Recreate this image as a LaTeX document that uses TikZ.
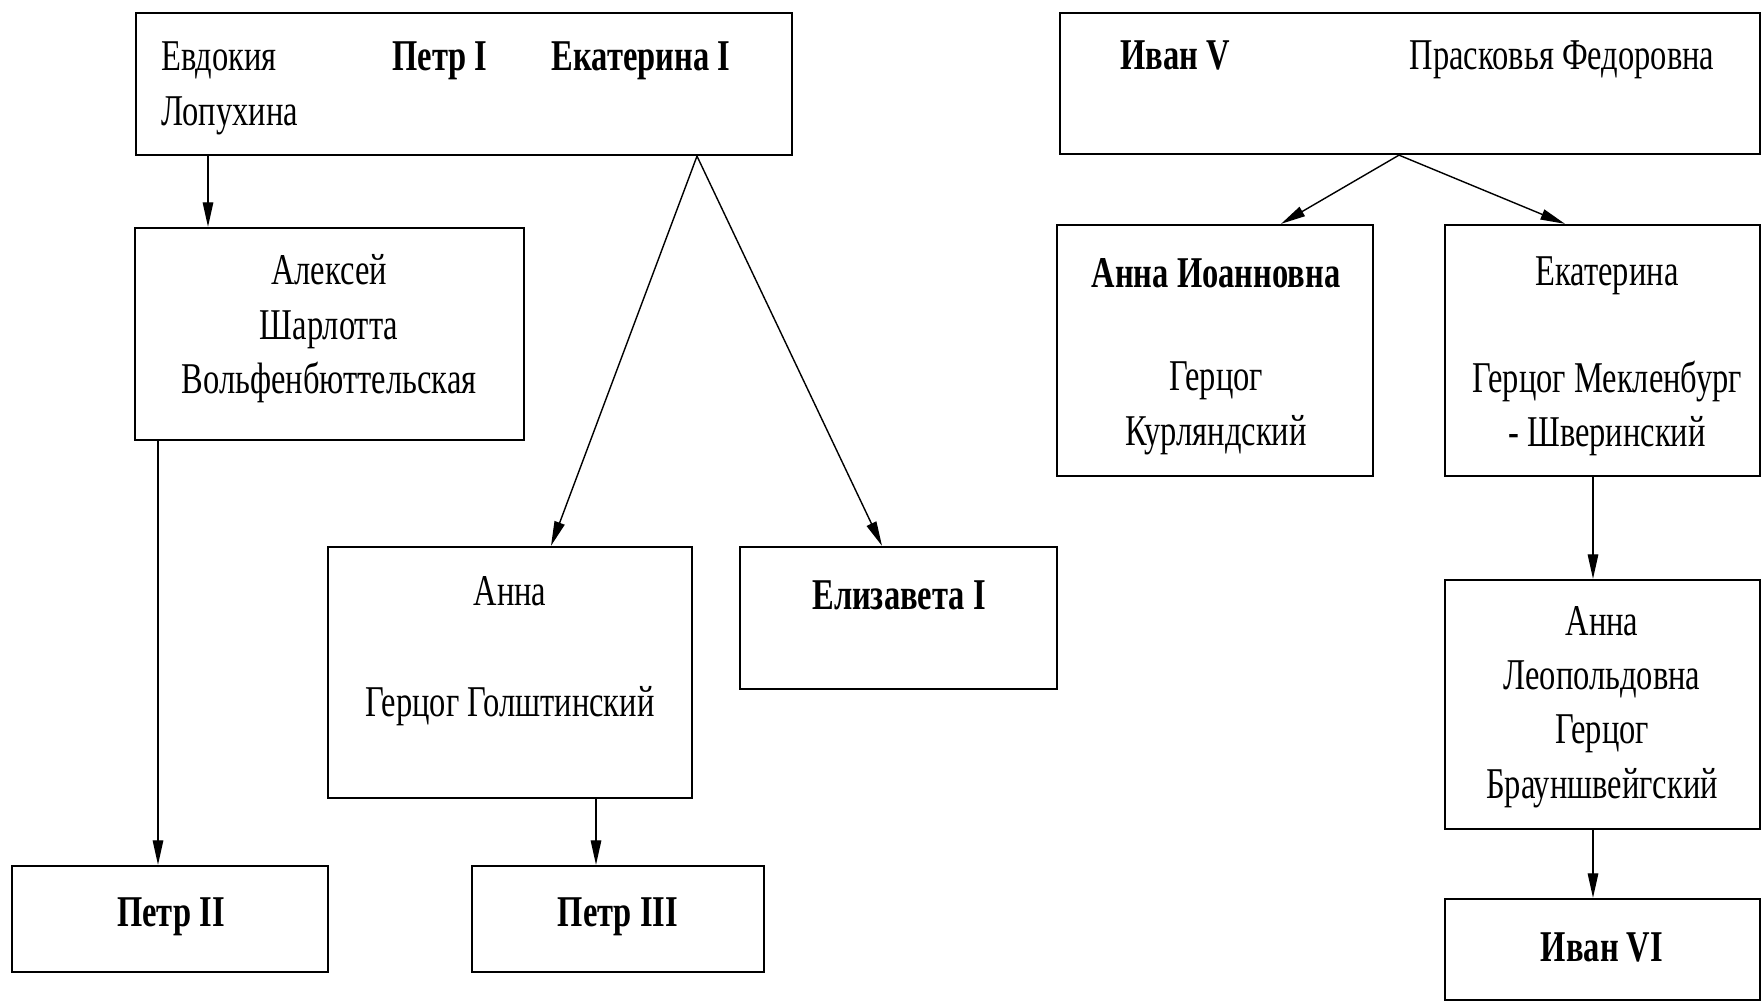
\documentclass[tikz,border=0pt]{standalone}
\usepackage{fontspec}
\setmainfont[FakeStretch=0.74]{Liberation Serif}
\usepackage{tikz}
\usetikzlibrary{arrows.meta}
\newlength\pxu
\setlength\pxu{0.02cm}

\begin{document}
\begin{tikzpicture}[x=0.02cm, y=-0.02cm,
                fam/.style n args={2}{draw, rectangle, line width=1.3pt,
                    minimum width=#1\pxu, minimum height=#2\pxu, inner sep=0pt},
                txt/.style={font=\fontsize{25}{31}\selectfont, align=center, inner sep=0pt},
                ttl/.style={font=\fontsize{25}{31}\selectfont\bfseries, align=center, inner sep=0pt},
                arr/.style={-{Triangle[length=14pt,width=6pt]}, line width=0.8pt}]
                \useasboundingbox (0,0) rectangle (1762,1006);
                \node[fam={656}{142}] (petr1) at (464, 84) {};
                \node[fam={700}{141}] (ivan5) at (1410, 83.5) {};
                \node[fam={389}{212}] (alexei) at (329.5, 334) {};
                \node[fam={364}{251}] (anna) at (510, 672.5) {};
                \node[fam={317}{142}] (eliz) at (898.5, 618) {};
                \node[fam={316}{106}] (petr2) at (170, 919) {};
                \node[fam={292}{106}] (petr3) at (618, 919) {};
                \node[fam={316}{251}] (annai) at (1215, 350.5) {};
                \node[fam={315}{251}] (ekat) at (1602.5, 350.5) {};
                \node[fam={315}{249}] (annal) at (1602.5, 704.5) {};
                \node[fam={315}{101}] (ivan6) at (1602.5, 949.5) {};

                \node[txt, anchor=base west] (evd) at (161, 71) {Евдокия};
                \node[txt, anchor=base west] (lop) at (161, 126) {Лопухина};
                \node[ttl, anchor=base] (p1) at (440, 71) {Петр I};
                \node[ttl, anchor=base] (e1) at (641, 71) {Екатерина I};
                \node[ttl, anchor=base] (i5) at (1175, 70) {Иван V};
                \node[txt, anchor=base] (pf) at (1562, 70) {Прасковья Федоровна};
                \node[txt] (al) at (329, 329) {Алексей\\Шарлотта\\Вольфенбюттельская};
                \node[txt, anchor=base] (an) at (510, 606) {Анна};
                \node[txt, anchor=base] (gg) at (510, 716) {Герцог Голштинский};
                \node[ttl, anchor=base] (el) at (899, 610) {Елизавета I};
                \node[ttl, anchor=base] (p2) at (171, 926) {Петр II};
                \node[ttl, anchor=base] (p3) at (618, 926) {Петр III};
                \node[ttl, anchor=base] (ai) at (1216, 288) {Анна Иоанновна};
                \node[txt] (gk) at (1216, 408.5) {Герцог\\Курляндский};
                \node[txt, anchor=base] (ek) at (1607, 286) {Екатерина};
                \node[txt] (gm) at (1607, 408.5) {Герцог Мекленбург\\- Шверинский};
                \node[txt] (al2) at (1602, 707) {Анна\\Леопольдовна\\Герцог\\Брауншвейгский};
                \node[ttl, anchor=base] (i6) at (1602, 961) {Иван VI};

                \draw[arr] (petr1.south -| 208,0) -- (alexei.north -| 208,0);
                \draw[arr] (petr1.south -| 697,0) -- (anna.north -| 551,0);
                \draw[arr] (petr1.south -| 697,0) -- (eliz.north -| 882,0);
                \draw[arr] (alexei.south -| 158,0) -- (petr2.north -| 158,0);
                \draw[arr] (anna.south -| 596,0) -- (petr3.north -| 596,0);
                \draw[arr] (ivan5.south -| 1399,0) -- (annai.north -| 1281,0);
                \draw[arr] (ivan5.south -| 1399,0) -- (ekat.north -| 1565,0);
                \draw[arr] (ekat.south -| 1593,0) -- (annal.north -| 1593,0);
                \draw[arr] (annal.south -| 1593,0) -- (ivan6.north -| 1593,0);
            \end{tikzpicture}
\end{document}
